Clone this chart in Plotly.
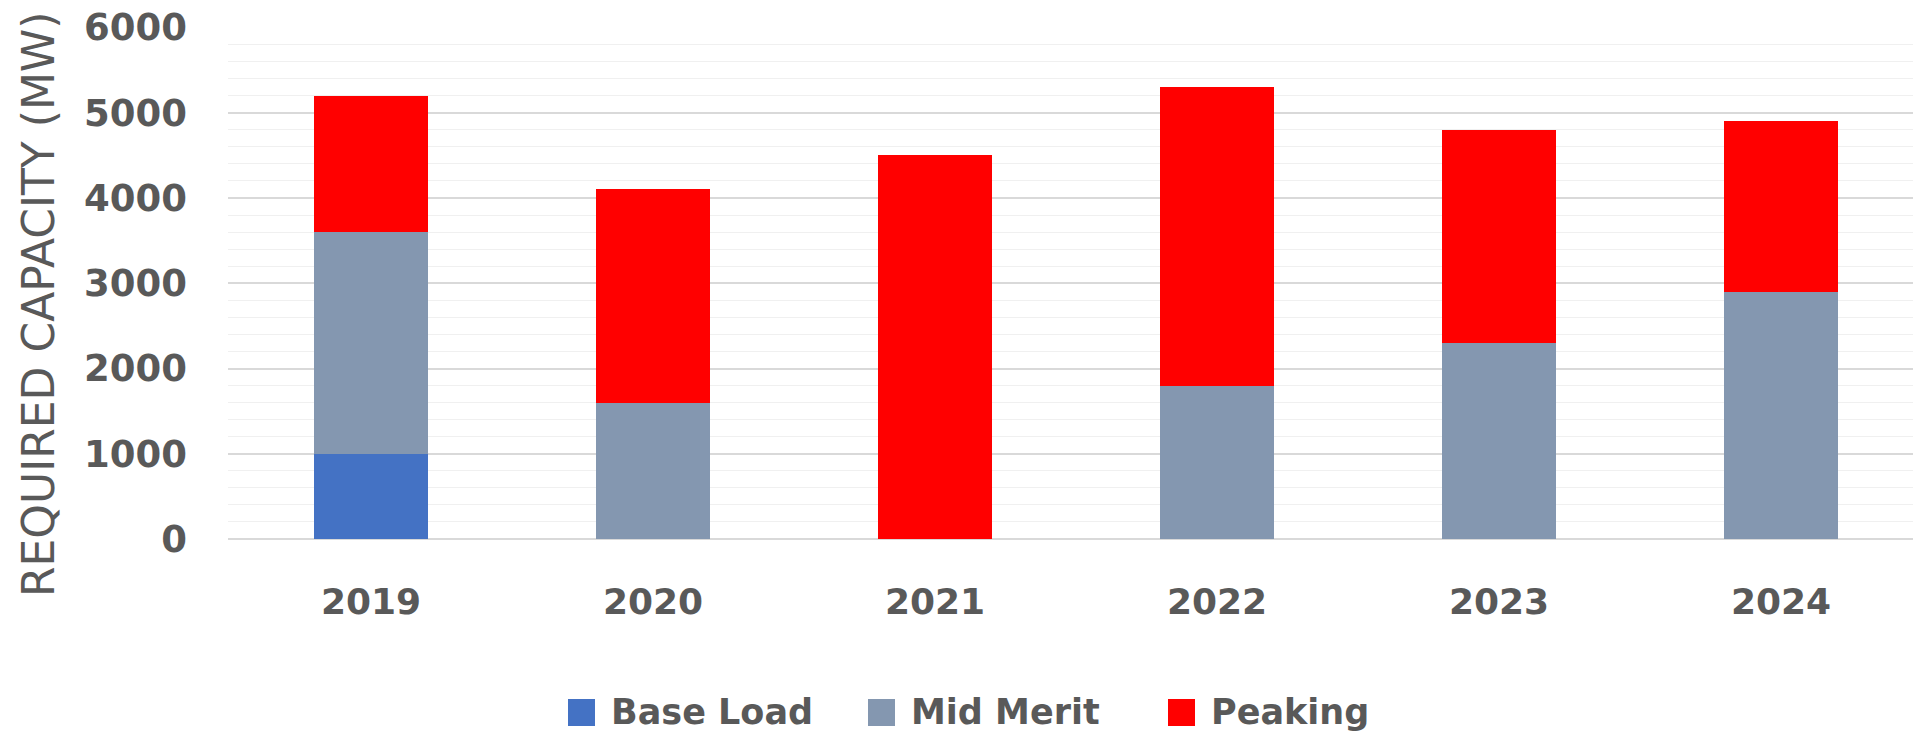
import plotly.graph_objects as go

years = ["2019", "2020", "2021", "2022", "2023", "2024"]
base_load = [1000, 0, 0, 0, 0, 0]
mid_merit = [2600, 1600, 0, 1800, 2300, 2900]
peaking = [1600, 2500, 4500, 3500, 2500, 2000]

series_names = ["Base Load", "Mid Merit", "Peaking"]
series_colors = ["#4472C4", "#8497B0", "#FF0000"]
series_values = [base_load, mid_merit, peaking]

y_title = "REQUIRED CAPACITY (MW)"
y_ticks = [0, 1000, 2000, 3000, 4000, 5000, 6000]

W, H = 1913, 737
ML, MR, MT, MB = 228, 0, 27, 198
PW = W - ML - MR
PH = H - MT - MB

TXT = "#595959"

fig = go.Figure()
for name, color, vals in zip(series_names, series_colors, series_values):
    fig.add_trace(go.Bar(
        x=years, y=vals, name=name,
        marker=dict(color=color, line=dict(width=0)),
        width=0.404, showlegend=False,
    ))

# custom legend (large square swatches)
leg_x0 = [568, 868, 1168]
leg_cy = 712.5
sw = 27
shapes = []
annotations = []
for name, color, lx in zip(series_names, series_colors, leg_x0):
    x0 = (lx - ML) / PW
    x1 = (lx + sw - ML) / PW
    y0 = (MT + PH - (leg_cy + sw / 2)) / PH
    y1 = (MT + PH - (leg_cy - sw / 2)) / PH
    shapes.append(dict(type="rect", xref="paper", yref="paper",
                       x0=x0, x1=x1, y0=y0, y1=y1,
                       fillcolor=color, line=dict(width=0)))
    annotations.append(dict(
        text=name, xref="paper", yref="paper",
        x=(lx + sw + 14 - ML) / PW, y=(MT + PH - 712) / PH,
        xanchor="left", yanchor="middle", showarrow=False,
        font=dict(family="DejaVu Sans", size=35, color=TXT, weight="bold"),
    ))

annotations.append(dict(
    text=y_title, xref="paper", yref="paper",
    x=(38 - ML) / PW, y=(MT + PH - 304) / PH,
    xanchor="center", yanchor="middle", textangle=-90, showarrow=False,
    font=dict(family="DejaVu Sans", size=44, color=TXT),
))

fig.update_layout(
    barmode="stack",
    width=W, height=H,
    margin=dict(l=ML, r=MR, t=MT, b=MB, pad=0, autoexpand=False),
    plot_bgcolor="white", paper_bgcolor="white",
    shapes=shapes, annotations=annotations,
    xaxis=dict(
        type="category", range=[-0.507, 5.468], automargin=False,
        showgrid=False, showline=False, ticks="",
        tickfont=dict(family="DejaVu Sans", size=36, color=TXT, weight="bold"),
        ticklabelstandoff=38,
    ),
    yaxis=dict(
        range=[0, 6006], tickvals=y_ticks, automargin=False,
        showgrid=True, gridcolor="#d9d9d9", gridwidth=1.5,
        zeroline=True, zerolinecolor="#d9d9d9", zerolinewidth=1.5,
        showline=False, ticks="",
        tickfont=dict(family="DejaVu Sans", size=37, color=TXT, weight="bold"),
        ticklabelstandoff=40,
        minor=dict(dtick=200, showgrid=True, gridcolor="#f0f0f0", gridwidth=1),
    ),
)

fig.write_html(
    "out.html",
    config={"displayModeBar": False},
    post_script="document.body.style.margin='0px';document.body.style.overflow='hidden';",
)
